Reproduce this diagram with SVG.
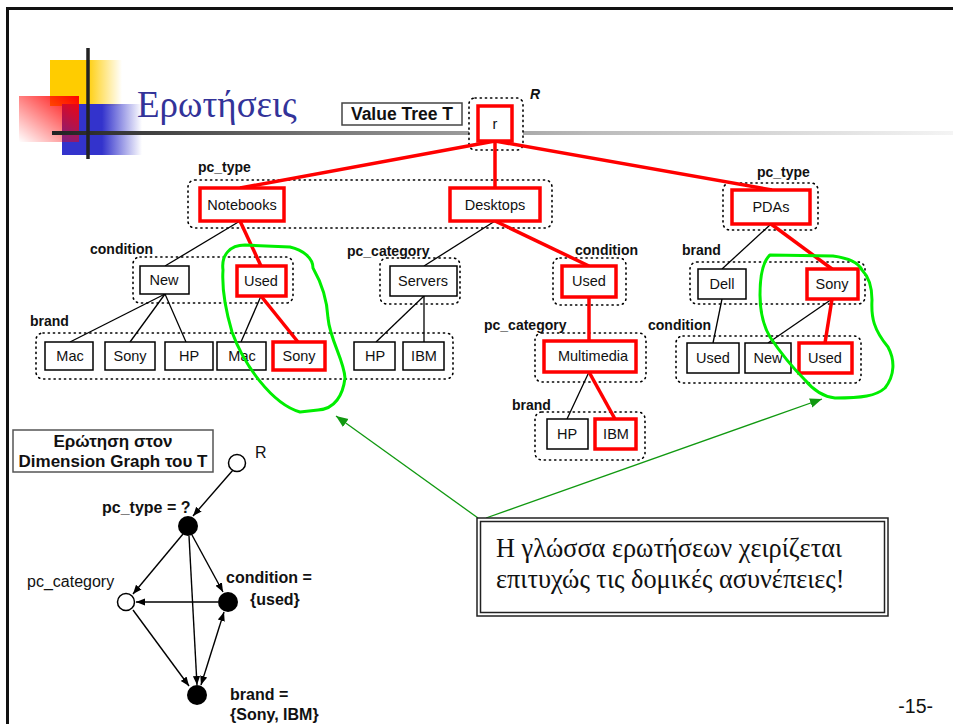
<svg xmlns="http://www.w3.org/2000/svg" width="953" height="724" viewBox="0 0 953 724">
  <defs>
    <linearGradient id="gYellow" x1="0" y1="0" x2="1" y2="0">
      <stop offset="0" stop-color="#ffcc00"/>
      <stop offset="0.5" stop-color="#ffcc00"/>
      <stop offset="1" stop-color="#ffcc00" stop-opacity="0"/>
    </linearGradient>
    <linearGradient id="gBlue" x1="0" y1="0" x2="1" y2="0">
      <stop offset="0" stop-color="#3333cc"/>
      <stop offset="0.5" stop-color="#3333cc"/>
      <stop offset="1" stop-color="#3333cc" stop-opacity="0"/>
    </linearGradient>
    <linearGradient id="gRed" x1="1" y1="0" x2="0" y2="1">
      <stop offset="0" stop-color="#ff0000"/>
      <stop offset="1" stop-color="#ff0000" stop-opacity="0"/>
    </linearGradient>
    <linearGradient id="gRule" x1="52" y1="0" x2="953" y2="0" gradientUnits="userSpaceOnUse">
      <stop offset="0" stop-color="#222"/>
      <stop offset="0.3" stop-color="#777"/>
      <stop offset="0.6" stop-color="#bbb"/>
      <stop offset="1" stop-color="#f4f4f4"/>
    </linearGradient>
    <marker id="ah" viewBox="0 0 10 10" refX="10" refY="5" markerWidth="9" markerHeight="9" markerUnits="userSpaceOnUse" orient="auto-start-reverse">
      <path d="M0,1 L10,5 L0,9 Z" fill="#000"/>
    </marker>
    <marker id="ahg" viewBox="0 0 10 10" refX="10" refY="5" markerWidth="12" markerHeight="12" markerUnits="userSpaceOnUse" orient="auto">
      <path d="M0,1 L10,5 L0,9 Z" fill="#119911"/>
    </marker>
  </defs>
  <style>
    .grp { fill: #fff; stroke: #000; stroke-width: 1.6; stroke-dasharray: 1.2 4; stroke-linecap: round; }
    .box { fill: #fff; stroke: #000; stroke-width: 1.5; }
    .sel { fill: #fff; stroke: #ff0000; stroke-width: 3.5; }
    .t { font-family: "Liberation Sans", Arial, sans-serif; font-size: 14.5px; fill: #111; text-anchor: middle; }
    .lab { font-family: "Liberation Sans", Arial, sans-serif; font-size: 14px; font-weight: bold; fill: #111; }
    .e { stroke: #000; stroke-width: 1.3; fill: none; }
    .er { stroke: #ff0000; stroke-width: 3.5; fill: none; }
    .loop { stroke: #00ee00; stroke-width: 3; fill: none; stroke-linejoin: round; }
    .ge { stroke: #000; stroke-width: 1.4; fill: none; marker-end: url(#ah); }
    .gl { font-family: "Liberation Sans", Arial, sans-serif; font-size: 16px; font-weight: bold; fill: #111; }
  </style>

  <rect width="953" height="724" fill="#fff"/>

  <!-- slide frame -->
  <path d="M7.5,724 V8.5 H953" fill="none" stroke="#111" stroke-width="3"/>

  <!-- title ornament -->
  <g id="title">
    <rect x="50" y="60" width="72" height="46" fill="url(#gYellow)"/>
    <rect x="62" y="104" width="80" height="51" fill="url(#gBlue)"/>
    <rect x="19" y="96" width="60" height="46" fill="url(#gRed)"/>
    <line x1="52" y1="133" x2="953" y2="133" stroke="url(#gRule)" stroke-width="4"/>
    <line x1="88" y1="48" x2="88" y2="159" stroke="#222" stroke-width="3.5"/>
    <text x="137" y="117" font-family="Liberation Serif, 'Times New Roman', serif" font-size="37" fill="#333399">Ερωτήσεις</text>
  </g>

  <g id="value-tree-label">
    <rect x="342" y="103" width="120" height="22" fill="#fff" stroke="#444" stroke-width="1.5"/>
    <text x="402" y="120" font-family="Liberation Sans, Arial, sans-serif" font-size="17.5" font-weight="bold" text-anchor="middle" fill="#111">Value Tree T</text>
  </g>

  <!-- dotted attribute groups -->
  <g id="groups">
    <rect class="grp" x="469" y="98" width="54" height="52" rx="6"/>
    <rect class="grp" x="188" y="180" width="364" height="48" rx="7"/>
    <rect class="grp" x="723" y="183" width="95" height="47" rx="7"/>
    <rect class="grp" x="133" y="257" width="160" height="46" rx="7"/>
    <rect class="grp" x="36" y="333" width="417" height="46" rx="7"/>
    <rect class="grp" x="380" y="258" width="80" height="46" rx="7"/>
    <rect class="grp" x="553" y="258" width="73" height="47" rx="7"/>
    <rect class="grp" x="535" y="333" width="111" height="49" rx="7"/>
    <rect class="grp" x="535" y="412" width="110" height="48" rx="7"/>
    <rect class="grp" x="690" y="262" width="175" height="42" rx="7"/>
    <rect class="grp" x="676" y="336" width="185" height="47" rx="7"/>
  </g>

  <!-- group labels -->
  <g id="group-labels">
    <text class="lab" x="530" y="99" font-family="Liberation Serif, serif" font-style="italic" font-size="16">R</text>
    <text class="lab" x="198" y="172">pc_type</text>
    <text class="lab" x="757" y="177">pc_type</text>
    <text class="lab" x="90" y="254">condition</text>
    <text class="lab" x="30" y="326">brand</text>
    <text class="lab" x="347" y="256">pc_category</text>
    <text class="lab" x="575" y="255">condition</text>
    <text class="lab" x="484" y="330">pc_category</text>
    <text class="lab" x="512" y="410">brand</text>
    <text class="lab" x="682" y="255">brand</text>
    <text class="lab" x="648" y="330">condition</text>
  </g>

  <!-- tree edges -->
  <g id="tree-edges">
    <line class="e" x1="240" y1="221" x2="165" y2="266"/>
    <line class="e" x1="165" y1="294" x2="70" y2="342"/>
    <line class="e" x1="165" y1="294" x2="130" y2="342"/>
    <line class="e" x1="165" y1="294" x2="186" y2="342"/>
    <line class="e" x1="261" y1="296" x2="241" y2="342"/>
    <line class="e" x1="495" y1="221" x2="424" y2="266"/>
    <line class="e" x1="424" y1="296" x2="376" y2="342"/>
    <line class="e" x1="424" y1="296" x2="424" y2="342"/>
    <line class="e" x1="589" y1="372" x2="567" y2="419"/>
    <line class="e" x1="771" y1="224" x2="722" y2="269"/>
    <line class="e" x1="722" y1="299" x2="713" y2="343"/>
    <line class="e" x1="832" y1="299" x2="768" y2="343"/>
    <line class="er" x1="495" y1="141" x2="240" y2="188"/>
    <line class="er" x1="495" y1="141" x2="495" y2="188"/>
    <line class="er" x1="495" y1="141" x2="772" y2="190"/>
    <line class="er" x1="240" y1="221" x2="261" y2="266"/>
    <line class="er" x1="261" y1="296" x2="298" y2="342"/>
    <line class="er" x1="495" y1="221" x2="589" y2="266"/>
    <line class="er" x1="589" y1="297" x2="589" y2="341"/>
    <line class="er" x1="589" y1="372" x2="615" y2="419"/>
    <line class="er" x1="771" y1="224" x2="832" y2="269"/>
    <line class="er" x1="832" y1="299" x2="825" y2="343"/>
  </g>

  <!-- tree nodes -->
  <g id="n-root"><rect class="sel" x="478" y="106" width="34" height="35"/><text class="t" x="495" y="129">r</text></g>
  <g id="n-notebooks"><rect class="sel" x="200" y="188" width="84" height="33"/><text class="t" x="242" y="210">Notebooks</text></g>
  <g id="n-desktops"><rect class="sel" x="450" y="188" width="90" height="33"/><text class="t" x="495" y="210">Desktops</text></g>
  <g id="n-pdas"><rect class="sel" x="732" y="190" width="78" height="34"/><text class="t" x="771" y="212">PDAs</text></g>
  <g id="n-new"><rect class="box" x="140" y="266" width="49" height="28"/><text class="t" x="164" y="285">New</text></g>
  <g id="n-used1"><rect class="sel" x="237" y="266" width="49" height="30"/><text class="t" x="261" y="286">Used</text></g>
  <g id="n-mac1"><rect class="box" x="45" y="342" width="48" height="28"/><text class="t" x="70" y="361">Mac</text></g>
  <g id="n-sony1"><rect class="box" x="105" y="342" width="50" height="28"/><text class="t" x="130" y="361">Sony</text></g>
  <g id="n-hp1"><rect class="box" x="165" y="342" width="48" height="28"/><text class="t" x="189" y="361">HP</text></g>
  <g id="n-mac2"><rect class="box" x="217" y="342" width="49" height="28"/><text class="t" x="242" y="361">Mac</text></g>
  <g id="n-sony2"><rect class="sel" x="273" y="342" width="52" height="28"/><text class="t" x="299" y="361">Sony</text></g>
  <g id="n-servers"><rect class="box" x="390" y="266" width="67" height="30"/><text class="t" x="423" y="286">Servers</text></g>
  <g id="n-hp2"><rect class="box" x="354" y="342" width="41" height="28"/><text class="t" x="375" y="361">HP</text></g>
  <g id="n-ibm1"><rect class="box" x="403" y="342" width="41" height="28"/><text class="t" x="424" y="361">IBM</text></g>
  <g id="n-used2"><rect class="sel" x="562" y="266" width="54" height="31"/><text class="t" x="589" y="286">Used</text></g>
  <g id="n-multimedia"><rect class="sel" x="544" y="341" width="92" height="31"/><text class="t" x="593" y="361">Multimedia</text></g>
  <g id="n-hp3"><rect class="box" x="547" y="419" width="41" height="30"/><text class="t" x="567" y="439">HP</text></g>
  <g id="n-ibm2"><rect class="sel" x="595" y="419" width="41" height="30"/><text class="t" x="616" y="439">IBM</text></g>
  <g id="n-dell"><rect class="box" x="698" y="269" width="48" height="30"/><text class="t" x="722" y="289">Dell</text></g>
  <g id="n-sony3"><rect class="sel" x="807" y="269" width="51" height="30"/><text class="t" x="832" y="289">Sony</text></g>
  <g id="n-used3"><rect class="box" x="687" y="343" width="52" height="30"/><text class="t" x="713" y="363">Used</text></g>
  <g id="n-new2"><rect class="box" x="745" y="343" width="46" height="30"/><text class="t" x="768" y="363">New</text></g>
  <g id="n-used4"><rect class="sel" x="799" y="343" width="53" height="30"/><text class="t" x="825" y="363">Used</text></g>

  <!-- freehand highlights -->
  <g id="highlights">
    <path class="loop" d="M223,270 C221,255 230,245 245,245 L290,247 C303,250 313,258 313,268 C321,282 327,298 328,318 C330,340 344,360 345,378 C343,395 335,409 318,410 L300,412 C272,404 244,365 232,332 C224,305 222,285 223,270 Z"/>
    <path class="loop" d="M770,255 L833,256 C848,258 858,262 862,270 C870,278 872,288 872,300 C871,318 874,330 888,347 C895,360 895,375 885,388 C876,396 862,398 835,398 C825,397 815,392 805,380 C795,370 780,352 770,337 C763,325 760,312 760,295 C760,280 762,262 770,255 Z"/>
  </g>

  <!-- callout pointers -->
  <g id="callout-pointers">
    <line x1="478" y1="518" x2="336" y2="416" stroke="#119911" stroke-width="1.3" marker-end="url(#ahg)"/>
    <line x1="486" y1="518" x2="822" y2="399" stroke="#119911" stroke-width="1.3" marker-end="url(#ahg)"/>
  </g>

  <g id="callout">
    <rect x="477" y="518" width="411" height="98" fill="#fff" stroke="#222" stroke-width="1.5"/>
    <rect x="480.5" y="521.5" width="404" height="91" fill="none" stroke="#222" stroke-width="1.5"/>
    <text font-family="Liberation Serif, 'Times New Roman', serif" font-size="26.3" fill="#111">
      <tspan x="496" y="557">Η γλώσσα ερωτήσεων χειρίζεται</tspan>
      <tspan x="496" y="588">επιτυχώς τις δομικές ασυνέπειες!</tspan>
    </text>
  </g>

  <!-- dimension graph -->
  <g id="dg-title">
    <rect x="13" y="430" width="200" height="42" fill="#fff" stroke="#555" stroke-width="1.5"/>
    <text x="113" y="447" text-anchor="middle" font-family="Liberation Sans, Arial, sans-serif" font-size="17" font-weight="bold" fill="#111">Ερώτηση στον</text>
    <text x="113" y="467" text-anchor="middle" font-family="Liberation Sans, Arial, sans-serif" font-size="17" font-weight="bold" fill="#111">Dimension Graph του T</text>
  </g>

  <g id="dg-edges">
    <line class="ge" x1="233" y1="470" x2="193" y2="516"/>
    <line class="ge" x1="183" y1="534" x2="133" y2="594"/>
    <line class="ge" x1="192" y1="535" x2="223" y2="592"/>
    <line class="ge" x1="189" y1="536" x2="197" y2="685"/>
    <line class="ge" x1="218" y1="602" x2="136" y2="602"/>
    <line class="ge" x1="133" y1="610" x2="189" y2="686"/>
    <line class="ge" x1="224" y1="612" x2="201" y2="685" marker-start="url(#ah)"/>
  </g>

  <g id="dg-R">
    <circle cx="237" cy="463" r="8.5" fill="#fff" stroke="#000" stroke-width="1.5"/>
    <text x="255" y="458" font-family="Liberation Sans, Arial, sans-serif" font-size="16" fill="#111">R</text>
  </g>
  <g id="dg-pc_type">
    <circle cx="188" cy="526" r="10" fill="#000"/>
    <text class="gl" x="102" y="513">pc_type = ?</text>
  </g>
  <g id="dg-pc_category">
    <circle cx="126" cy="602" r="8.5" fill="#fff" stroke="#000" stroke-width="1.5"/>
    <text x="27" y="587" font-family="Liberation Sans, Arial, sans-serif" font-size="16" fill="#111">pc_category</text>
  </g>
  <g id="dg-condition">
    <circle cx="228" cy="602" r="10" fill="#000"/>
    <text class="gl" x="226" y="583">condition =</text>
    <text class="gl" x="250" y="605">{used}</text>
  </g>
  <g id="dg-brand">
    <circle cx="197" cy="695" r="10" fill="#000"/>
    <text class="gl" x="230" y="700">brand =</text>
    <text class="gl" x="230" y="720">{Sony, IBM}</text>
  </g>

  <text x="933" y="713" text-anchor="end" font-family="Liberation Sans, Arial, sans-serif" font-size="19.5" fill="#111">-15-</text>
</svg>
